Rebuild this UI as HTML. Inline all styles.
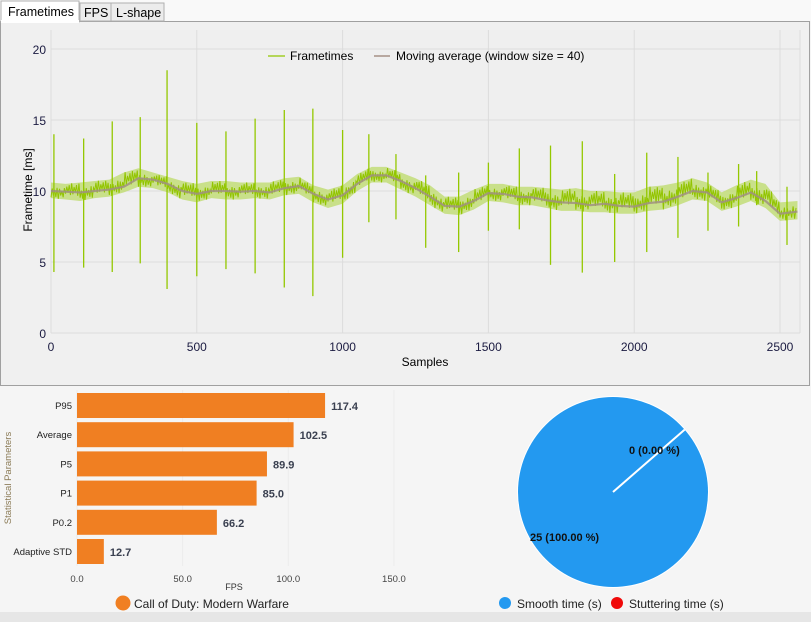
<!DOCTYPE html>
<html><head><meta charset="utf-8"><style>
body{margin:0;width:811px;height:622px;overflow:hidden;background:#f5f5f5;font-family:"Liberation Sans",sans-serif;}
svg{position:absolute;left:0;top:0}
</style></head><body>
<svg id="s" width="811" height="622">
<rect x="0" y="0" width="811" height="622" fill="#f5f5f5"/>
<rect x="0" y="0" width="811" height="21" fill="#f9f9f9"/>
<rect x="0.5" y="21.5" width="809" height="364" fill="#f0f0f0" stroke="#a0a0a0"/>
<g font-size="12.5" fill="#000">
<rect x="1" y="1" width="78" height="21" fill="#fff" stroke="#b0b0b0"/>
<rect x="1" y="20" width="78" height="3" fill="#fff"/>
<text x="8" y="16">Frametimes</text>
<rect x="80" y="3" width="31" height="18" fill="#ececec" stroke="#b0b0b0"/>
<text x="84" y="17">FPS</text>
<rect x="111" y="3" width="53" height="18" fill="#ececec" stroke="#b0b0b0"/>
<text x="116" y="17">L-shape</text>
</g>
<g id="ft"></g>
<g id="bar"></g>
<g id="pie"></g>
<rect x="0" y="612" width="811" height="10" fill="#e6e6e6"/>
</svg>
<script>
const maSamples=[0,50,100,150,200,250,300,350,400,450,500,550,600,650,700,750,800,850,900,950,1000,1050,1100,1150,1200,1250,1300,1350,1400,1450,1500,1550,1600,1650,1700,1750,1800,1850,1900,1950,2000,2050,2100,2150,2200,2250,2300,2350,2400,2450,2500,2560];
const maValues=[10.0,9.95,9.9,10.0,10.1,10.3,10.9,10.8,10.5,10.0,9.8,10.0,10.0,9.95,10.0,9.9,10.2,10.35,9.8,9.4,9.7,10.5,11.1,11.1,10.7,10.2,9.6,8.95,8.9,9.3,9.85,9.8,9.6,9.55,9.35,9.2,9.15,9.0,9.1,8.95,8.9,9.15,9.25,9.6,10.0,9.9,9.2,9.5,9.9,9.3,8.4,8.55];
const ftHigh=[10.6,10.5,10.6,10.7,10.8,11.3,11.6,11.3,11.0,10.7,10.5,10.7,10.7,10.6,10.6,10.6,10.9,11.0,10.4,10.1,10.4,11.2,11.7,11.7,11.3,10.9,10.4,9.6,9.6,10.1,10.5,10.5,10.3,10.3,10.2,10.1,10.2,10.0,10.0,9.9,9.9,10.3,10.4,10.6,10.9,10.6,9.9,10.4,10.8,10.5,9.2,9.3];
const ftLow=[9.5,9.4,9.3,9.5,9.6,9.9,10.3,10.2,9.9,9.4,9.2,9.5,9.4,9.4,9.5,9.4,9.7,9.8,9.2,8.8,9.1,10.0,10.6,10.6,10.1,9.6,9.0,8.4,8.3,8.7,9.3,9.2,9.0,9.0,8.8,8.6,8.6,8.5,8.5,8.4,8.4,8.6,8.7,9.0,9.4,9.3,8.6,8.9,9.3,8.8,7.9,8.0];
const spikeSamples=[10,112,210,306,398,500,600,700,800,898,1000,1090,1183,1285,1398,1500,1606,1713,1822,1933,2043,2150,2253,2358,2420,2524];
const spikeTop=[14.0,13.7,14.9,15.2,18.5,14.8,14.2,15.1,15.7,15.8,14.3,14.0,12.6,11.1,11.3,12.0,13.0,13.2,13.5,11.2,12.7,12.4,11.3,11.9,11.4,10.3];
const spikeBottom=[4.3,4.6,4.3,4.9,3.1,4.0,4.5,4.2,3.2,2.6,5.3,7.8,8.0,6.0,5.7,7.2,7.3,4.8,4.25,5.0,5.7,6.7,7.2,7.5,9.0,6.2];
const xTicks=[0,500,1000,1500,2000,2500];
const yTicks=[0,5,10,15,20];
const barCats=["P95","Average","P5","P1","P0.2","Adaptive STD"];
const barVals=[117.4,102.5,89.9,85.0,66.2,12.7];
const barTicks=[0,50,100,150];
const pieLabels=["Smooth time (s)","Stuttering time (s)"];
const pieVals=[25,0];
const NS="http://www.w3.org/2000/svg";
function mk(p,t,a,txt){const e=document.createElementNS(NS,t);for(const k in a)e.setAttribute(k,a[k]);if(txt!==undefined)e.textContent=txt;p.appendChild(e);return e;}
const ft=document.getElementById('ft');
const X=s=>51+s*0.2916, Y=v=>333-v*14.2;
mk(ft,'rect',{x:51,y:30,width:749,height:303,fill:'#efefef'});
yTicks.forEach(v=>{mk(ft,'line',{x1:51,x2:800,y1:Y(v),y2:Y(v),stroke:'#dcdcdc'});
const t=mk(ft,'text',{x:46,y:Y(v)+5,'text-anchor':'end','font-size':12,fill:'#1a1a40'},v);

});
xTicks.forEach(v=>{mk(ft,'line',{x1:X(v),x2:X(v),y1:30,y2:333,stroke:'#dcdcdc'});
const t=mk(ft,'text',{x:X(v),y:351,'text-anchor':'middle','font-size':12,fill:'#1a1a40'},v);

});
mk(ft,'line',{x1:800,x2:800,y1:30,y2:333,stroke:'#dcdcdc'});
let yt=mk(ft,'text',{x:425,y:366,'text-anchor':'middle','font-size':12},'Samples');


yt=mk(ft,'text',{transform:'translate(32,190) rotate(-90)','text-anchor':'middle','font-size':12},'Frametime [ms]');


let band=maSamples.map((s,i)=>X(s)+','+Y(ftHigh[i])).join(' ')+' '+maSamples.map((s,i)=>X(s)+','+Y(ftLow[i])).reverse().join(' ');
mk(ft,'polygon',{points:band,fill:'#c2dd78',opacity:0.85});
const jit=[0.9,0.25,0.65,0.1,0.8,0.4,1.0,0.3,0.55,0.05,0.75,0.45];
let zz=[];maSamples.forEach((s,i)=>{if(i<maSamples.length-1){const n=maSamples[i+1];const K=12;for(let k=0;k<K;k++){const f=k/K;const ss=s+(n-s)*f;const hi=ftHigh[i]+(ftHigh[i+1]-ftHigh[i])*f,lo=ftLow[i]+(ftLow[i+1]-ftLow[i])*f;const m=(hi+lo)/2;const a=jit[(k+i)%jit.length];zz.push(X(ss)+','+Y(k%2?m+(hi-m)*a:m-(m-lo)*a));}}});
const fl=mk(ft,'polyline',{points:zz.join(' '),fill:'none',stroke:'#92c400','stroke-width':1});


spikeSamples.forEach((s,i)=>{const l=mk(ft,'line',{x1:X(s),x2:X(s),y1:Y(spikeTop[i]),y2:Y(spikeBottom[i]),stroke:'#94c800','stroke-width':1.3});

});
const ma=mk(ft,'polyline',{points:maSamples.map((s,i)=>X(s)+','+Y(maValues[i])).join(' '),fill:'none',stroke:'#a09080','stroke-width':2.2,opacity:0.85});


const lg=mk(ft,'g',{});


mk(lg,'line',{x1:268,x2:285,y1:56,y2:56,stroke:'#b5d65a','stroke-width':2});
mk(lg,'text',{x:290,y:60,'font-size':12},'Frametimes');
mk(lg,'line',{x1:374,x2:390,y1:56,y2:56,stroke:'#b8a8a0','stroke-width':2});
mk(lg,'text',{x:396,y:60,'font-size':12},'Moving average (window size = 40)');
const bar=document.getElementById('bar');
const BX=v=>77+v*2.113;
barTicks.forEach(v=>{mk(bar,'line',{x1:BX(v),x2:BX(v),y1:390,y2:566,stroke:'#ececec'});
const t=mk(bar,'text',{x:BX(v),y:582,'text-anchor':'middle','font-size':9.5,fill:'#444'},v.toFixed(1));

});
barCats.forEach((c,i)=>{const y=393+i*29.2;
const r=mk(bar,'rect',{x:77,y:y,width:BX(barVals[i])-77,height:25,fill:'#f07f22'});


mk(bar,'text',{x:72,y:y+16,'text-anchor':'end','font-size':9.5,fill:'#222'},c);
mk(bar,'text',{x:BX(barVals[i])+6,y:y+17,'font-size':11,'font-weight':'bold',fill:'#3a4050'},barVals[i].toFixed(1));});
yt=mk(bar,'text',{x:234,y:590,'text-anchor':'middle','font-size':9,fill:'#333'},'FPS');


yt=mk(bar,'text',{transform:'translate(11,478) rotate(-90)','text-anchor':'middle','font-size':9.5,fill:'#8a7a55'},'Statistical Parameters');


const bl=mk(bar,'g',{});


mk(bl,'circle',{cx:123,cy:603,r:7.5,fill:'#f07f22'});
mk(bl,'text',{x:134,y:608,'font-size':12,fill:'#222'},'Call of Duty: Modern Warfare');
const pie=document.getElementById('pie');
const cx=613,cy=492,R=95;const tot=pieVals.reduce((a,b)=>a+b,0);
mk(pie,'circle',{cx:cx,cy:cy,r:R+1,fill:'#fff'});
const ps=mk(pie,'circle',{cx:cx,cy:cy,r:R*pieVals[0]/tot,fill:'#2399f0'});


const ang=-Math.PI/2+Math.PI*2*0.136;
const sl=mk(pie,'line',{x1:cx,y1:cy,x2:cx+R*Math.cos(ang),y2:cy+R*Math.sin(ang),stroke:'#fff','stroke-width':2});


mk(pie,'text',{x:629,y:454,'font-size':11,'font-weight':'bold',fill:'#111'},pieVals[1]+' ('+(100*pieVals[1]/tot).toFixed(2)+' %)');
mk(pie,'text',{x:530,y:541,'font-size':11,'font-weight':'bold',fill:'#111'},pieVals[0]+' ('+(100*pieVals[0]/tot).toFixed(2)+' %)');
const cols=['#2399f0','#f00a0a'];const lx=[505,617];
pieLabels.forEach((l,i)=>{const g=mk(pie,'g',{});


mk(g,'circle',{cx:lx[i],cy:603,r:6,fill:cols[i]});
mk(g,'text',{x:lx[i]+12,y:608,'font-size':12,fill:'#222'},l);});
</script>
</body></html>
